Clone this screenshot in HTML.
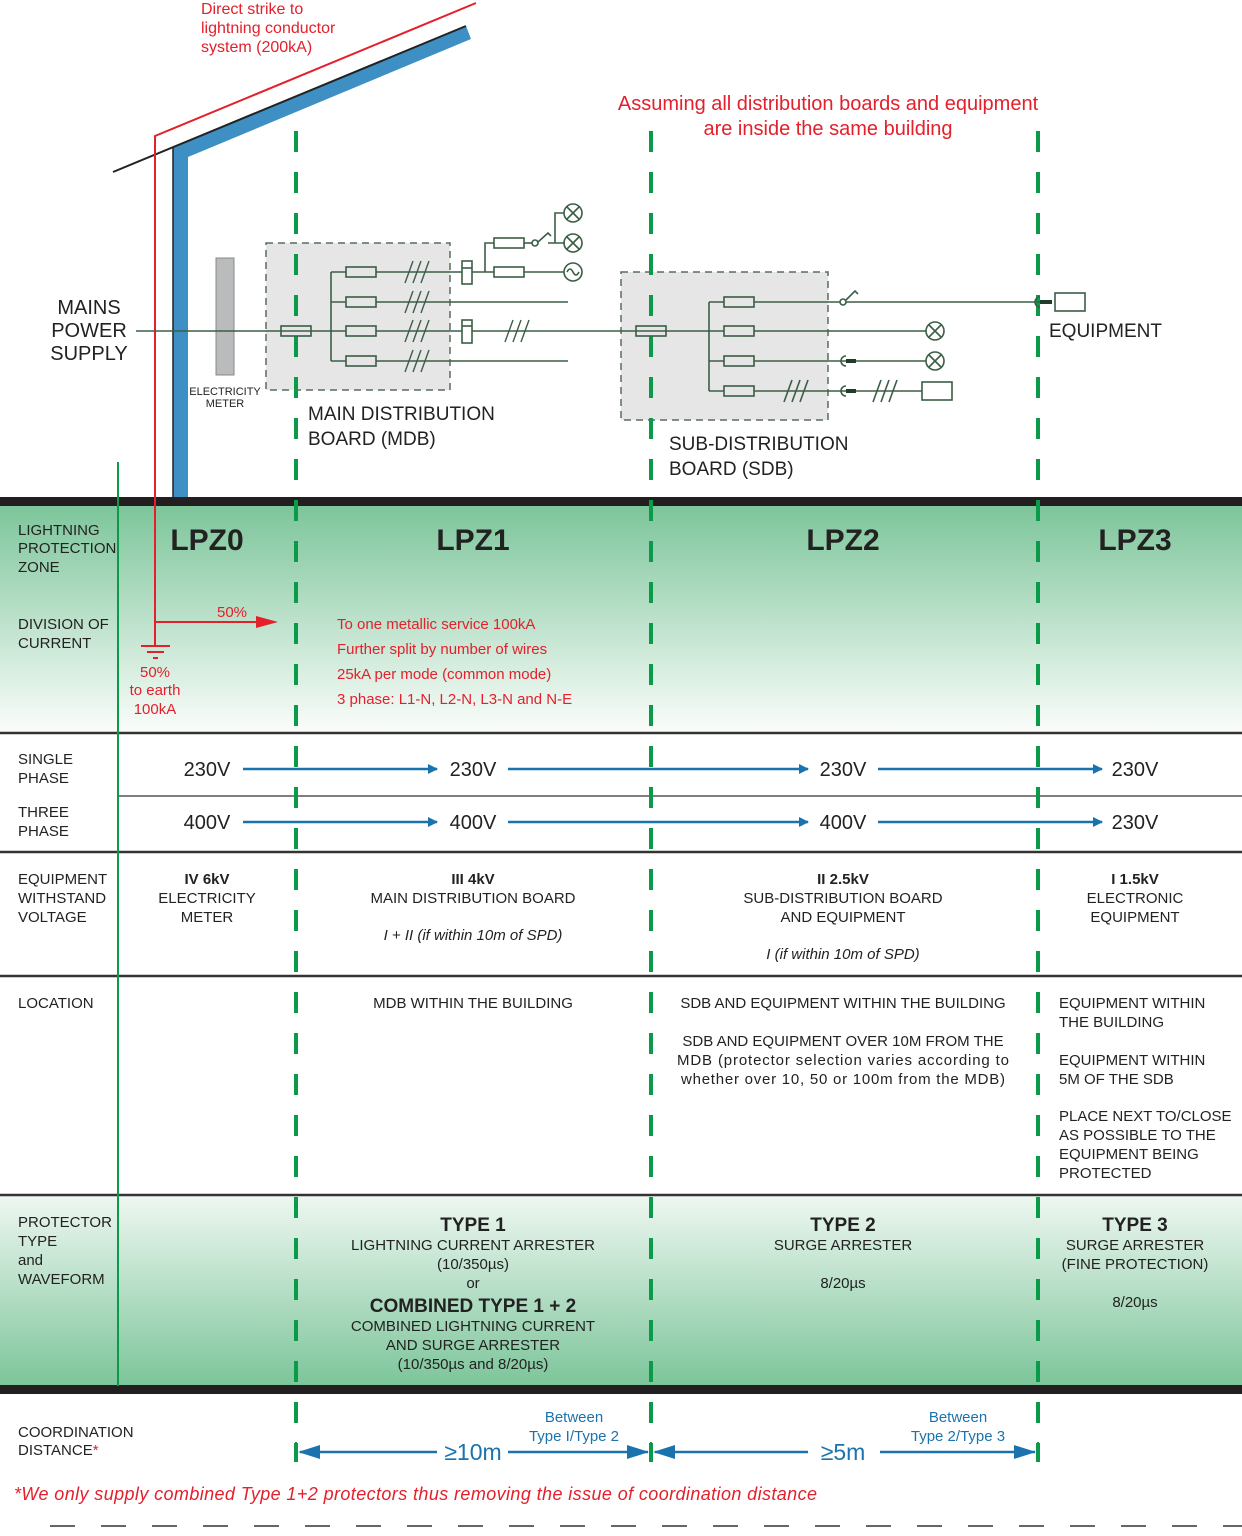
<!DOCTYPE html>
<html><head><meta charset="utf-8"><style>
html,body{margin:0;padding:0;background:#fff}
svg{display:block}
text{font-family:"Liberation Sans",sans-serif;fill:#222}
.r{fill:#e3202b}.b{fill:#1b73ad}
</style></head><body>
<svg width="1242" height="1536" viewBox="0 0 1242 1536" xmlns="http://www.w3.org/2000/svg">
<defs>
<linearGradient id="g1" x1="0" y1="0" x2="0" y2="1"><stop offset="0" stop-color="#7cc59a"/><stop offset="1" stop-color="#fbfdfb"/></linearGradient>
<linearGradient id="g2" x1="0" y1="0" x2="0" y2="1"><stop offset="0" stop-color="#eef7f1"/><stop offset="1" stop-color="#7cc59a"/></linearGradient>
<marker id="ab" markerWidth="10" markerHeight="10" refX="9" refY="5" orient="auto" markerUnits="userSpaceOnUse" viewBox="0 0 10 10"><path d="M0,0 L10,5 L0,10z" fill="#1b73ad"/></marker>
</defs>
<!-- bands -->
<rect x="0" y="505" width="1242" height="228" fill="url(#g1)"/>
<rect x="0" y="1196" width="1242" height="190" fill="url(#g2)"/>
<rect x="0" y="497" width="1242" height="9" fill="#231f20"/>
<rect x="0" y="1385" width="1242" height="9" fill="#231f20"/>
<g stroke="#333" stroke-width="2.5">
<line x1="0" y1="733" x2="1242" y2="733"/>
<line x1="0" y1="852" x2="1242" y2="852"/>
<line x1="0" y1="976" x2="1242" y2="976"/>
<line x1="0" y1="1195" x2="1242" y2="1195"/>
</g>
<line x1="118" y1="796" x2="1242" y2="796" stroke="#555" stroke-width="1.5"/>
<line x1="118" y1="462" x2="118" y2="1386" stroke="#0a9a4a" stroke-width="2"/>

<!-- building -->
<polygon points="173,147 466,26 471,39 188,157 188,497 173,497" fill="#3d8fc4"/>
<line x1="113" y1="172" x2="466" y2="26" stroke="#222" stroke-width="2"/>
<line x1="173" y1="148" x2="173" y2="497" stroke="#222" stroke-width="1.5"/>
<polyline points="476,3 155,136 155,646" fill="none" stroke="#e3202b" stroke-width="2"/>
<text class="r" x="201" y="14" font-size="16">Direct strike to</text>
<text class="r" x="201" y="33" font-size="16">lightning conductor</text>
<text class="r" x="201" y="52" font-size="16">system (200kA)</text>
<text class="r" x="828" y="110" font-size="20" text-anchor="middle">Assuming all distribution boards and equipment</text>
<text class="r" x="828" y="135" font-size="20" text-anchor="middle">are inside the same building</text>

<!-- MDB / SDB boxes -->
<rect x="266" y="243" width="184" height="147" fill="#e6e6e6" stroke="#5a6b5e" stroke-width="1.5" stroke-dasharray="7,5"/>
<rect x="621" y="272" width="207" height="148" fill="#e6e6e6" stroke="#5a6b5e" stroke-width="1.5" stroke-dasharray="7,5"/>
<rect x="216" y="258" width="18" height="117" fill="#b9bbbd" stroke="#888" stroke-width="1"/>

<!-- green dashed verticals -->
<g stroke="#0a9a4a" stroke-width="4" stroke-dasharray="21,20">
<line x1="296" y1="131" x2="296" y2="1462"/>
<line x1="651" y1="131" x2="651" y2="1462"/>
<line x1="1038" y1="131" x2="1038" y2="1462"/>
</g>

<!-- circuit -->
<g stroke="#3b5e45" stroke-width="1.6" fill="none">
<line x1="136" y1="331" x2="926" y2="331"/>
<rect x="281" y="326" width="30" height="10" fill="none"/>
<line x1="331" y1="272" x2="331" y2="361"/>
<line x1="331" y1="272" x2="564" y2="272"/>
<line x1="331" y1="302" x2="568" y2="302"/>
<line x1="331" y1="361" x2="568" y2="361"/>
<rect x="346" y="267" width="30" height="10" fill="#e6e6e6"/>
<rect x="346" y="297" width="30" height="10" fill="#e6e6e6"/>
<rect x="346" y="326" width="30" height="10" fill="#e6e6e6"/>
<rect x="346" y="356" width="30" height="10" fill="#e6e6e6"/>
<g stroke-width="1.4">
<path d="M405,283 l8,-22 M413,283 l8,-22 M421,283 l8,-22"/>
<path d="M405,313 l8,-22 M413,313 l8,-22 M421,313 l8,-22"/>
<path d="M405,342 l8,-22 M413,342 l8,-22 M421,342 l8,-22"/>
<path d="M405,372 l8,-22 M413,372 l8,-22 M421,372 l8,-22"/>
<path d="M505,342 l8,-22 M513,342 l8,-22 M521,342 l8,-22"/>
</g>
<rect x="462" y="261" width="10" height="23" fill="#fff"/>
<line x1="462" y1="268" x2="472" y2="268"/>
<rect x="462" y="320" width="10" height="23" fill="#fff"/>
<line x1="462" y1="326" x2="472" y2="326"/>
<polyline points="485,272 485,243 494,243"/>
<rect x="494" y="238" width="30" height="10" fill="#fff"/>
<rect x="494" y="267" width="30" height="10" fill="#fff"/>
<line x1="524" y1="243" x2="532" y2="243"/>
<circle cx="535" cy="243" r="3"/>
<path d="M538,242 L548,233 L551,236"/>
<line x1="548" y1="243" x2="565" y2="243"/>
<polyline points="555,243 555,213 564,213"/>
<circle cx="573" cy="213" r="9"/><path d="M567,207 l12,12 M579,207 l-12,12"/>
<circle cx="573" cy="243" r="9"/><path d="M567,237 l12,12 M579,237 l-12,12"/>
<circle cx="573" cy="272" r="9"/><path d="M567,272 q3,-6 6,0 t6,0"/>
<!-- SDB -->
<rect x="636" y="326" width="30" height="10" fill="none"/>
<line x1="709" y1="302" x2="709" y2="391"/>
<line x1="709" y1="302" x2="840" y2="302"/>
<line x1="846" y1="302" x2="1040" y2="302"/>
<line x1="709" y1="361" x2="926" y2="361"/>
<line x1="709" y1="391" x2="922" y2="391"/>
<rect x="724" y="297" width="30" height="10" fill="#e6e6e6"/>
<rect x="724" y="326" width="30" height="10" fill="#e6e6e6"/>
<rect x="724" y="356" width="30" height="10" fill="#e6e6e6"/>
<rect x="724" y="386" width="30" height="10" fill="#e6e6e6"/>
<circle cx="843" cy="302" r="3"/>
<path d="M846,300 L855,291 L858,294"/>
<circle cx="935" cy="331" r="9"/><path d="M929,325 l12,12 M941,325 l-12,12"/>
<circle cx="935" cy="361" r="9"/><path d="M929,355 l12,12 M941,355 l-12,12"/>
<path d="M784,402 l8,-22 M792,402 l8,-22 M800,402 l8,-22"/>
<path d="M873,402 l8,-22 M881,402 l8,-22 M889,402 l8,-22"/>
<path d="M846,356 a5,5 0 0 0 0,10"/>
<path d="M846,386 a5,5 0 0 0 0,10"/>
<path d="M1040,297 a5,5 0 0 0 0,10"/>
<rect x="922" y="382" width="30" height="18" fill="#fff"/>
<rect x="1055" y="293" width="30" height="18" fill="#fff"/>
</g>
<g fill="#1f3d28">
<rect x="846" y="359" width="10" height="4"/>
<rect x="846" y="389" width="10" height="4"/>
<rect x="1040" y="300" width="12" height="4"/>
</g>

<text x="89" y="314" font-size="20" text-anchor="middle">MAINS</text>
<text x="89" y="337" font-size="20" text-anchor="middle">POWER</text>
<text x="89" y="360" font-size="20" text-anchor="middle">SUPPLY</text>
<text x="225" y="395" font-size="11" text-anchor="middle" fill="#444">ELECTRICITY</text>
<text x="225" y="407" font-size="11" text-anchor="middle" fill="#444">METER</text>
<text x="308" y="420" font-size="19">MAIN DISTRIBUTION</text>
<text x="308" y="445" font-size="19">BOARD (MDB)</text>
<text x="669" y="450" font-size="19">SUB-DISTRIBUTION</text>
<text x="669" y="475" font-size="19">BOARD (SDB)</text>
<text x="1049" y="337" font-size="19">EQUIPMENT</text>

<!-- LPZ band -->
<g font-size="15">
<text x="18" y="535">LIGHTNING</text><text x="18" y="553">PROTECTION</text><text x="18" y="572">ZONE</text>
<text x="18" y="629">DIVISION OF</text><text x="18" y="648">CURRENT</text>
</g>
<g font-size="30" font-weight="bold" text-anchor="middle" fill="#1a1a1a">
<text x="207" y="550">LPZ0</text><text x="473" y="550">LPZ1</text><text x="843" y="550">LPZ2</text><text x="1135" y="550">LPZ3</text>
</g>
<line x1="155" y1="622" x2="262" y2="622" stroke="#e3202b" stroke-width="2"/>
<path d="M256,616 L278,622 L256,628z" fill="#e3202b"/>
<g stroke="#e3202b" stroke-width="2"><line x1="141" y1="646" x2="170" y2="646"/><line x1="147" y1="652" x2="164" y2="652"/><line x1="153" y1="658" x2="158" y2="658"/></g>
<g font-size="15" class="r">
<text class="r" x="232" y="617" text-anchor="middle">50%</text>
<text class="r" x="155" y="677" text-anchor="middle">50%</text>
<text class="r" x="155" y="695" text-anchor="middle">to earth</text>
<text class="r" x="155" y="714" text-anchor="middle">100kA</text>
<text class="r" x="337" y="629">To one metallic service 100kA</text>
<text class="r" x="337" y="654">Further split by number of wires</text>
<text class="r" x="337" y="679">25kA per mode (common mode)</text>
<text class="r" x="337" y="704">3 phase: L1-N, L2-N, L3-N and N-E</text>
</g>

<!-- voltages -->
<g font-size="15"><text x="18" y="764">SINGLE</text><text x="18" y="783">PHASE</text><text x="18" y="817">THREE</text><text x="18" y="836">PHASE</text></g>
<g font-size="20" text-anchor="middle">
<text x="207" y="776">230V</text><text x="473" y="776">230V</text><text x="843" y="776">230V</text><text x="1135" y="776">230V</text>
<text x="207" y="829">400V</text><text x="473" y="829">400V</text><text x="843" y="829">400V</text><text x="1135" y="829">230V</text>
</g>
<g stroke="#1b73ad" stroke-width="2.5" marker-end="url(#ab)">
<line x1="243" y1="769" x2="437" y2="769"/><line x1="508" y1="769" x2="808" y2="769"/><line x1="878" y1="769" x2="1102" y2="769"/>
<line x1="243" y1="822" x2="437" y2="822"/><line x1="508" y1="822" x2="808" y2="822"/><line x1="878" y1="822" x2="1102" y2="822"/>
</g>

<!-- withstand -->
<g font-size="15"><text x="18" y="884">EQUIPMENT</text><text x="18" y="903">WITHSTAND</text><text x="18" y="922">VOLTAGE</text></g>
<g font-size="15" text-anchor="middle">
<text x="207" y="884" font-weight="bold">IV 6kV</text><text x="207" y="903">ELECTRICITY</text><text x="207" y="922">METER</text>
<text x="473" y="884" font-weight="bold">III 4kV</text><text x="473" y="903">MAIN DISTRIBUTION BOARD</text><text x="473" y="940" font-style="italic">I + II (if within 10m of SPD)</text>
<text x="843" y="884" font-weight="bold">II 2.5kV</text><text x="843" y="903">SUB-DISTRIBUTION BOARD</text><text x="843" y="922">AND EQUIPMENT</text><text x="843" y="959" font-style="italic">I (if within 10m of SPD)</text>
<text x="1135" y="884" font-weight="bold">I 1.5kV</text><text x="1135" y="903">ELECTRONIC</text><text x="1135" y="922">EQUIPMENT</text>
</g>

<!-- location -->
<g font-size="15">
<text x="18" y="1008">LOCATION</text>
<text x="473" y="1008" text-anchor="middle">MDB WITHIN THE BUILDING</text>
<text x="843" y="1008" text-anchor="middle">SDB AND EQUIPMENT WITHIN THE BUILDING</text>
<text x="843" y="1046" text-anchor="middle">SDB AND EQUIPMENT OVER 10M FROM THE</text>
<text x="843" y="1065" text-anchor="middle" textLength="332">MDB (protector selection varies according to</text>
<text x="843" y="1084" text-anchor="middle" textLength="324">whether over 10, 50 or 100m from the MDB)</text>
<text x="1059" y="1008">EQUIPMENT WITHIN</text><text x="1059" y="1027">THE BUILDING</text>
<text x="1059" y="1065">EQUIPMENT WITHIN</text><text x="1059" y="1084">5M OF THE SDB</text>
<text x="1059" y="1121">PLACE NEXT TO/CLOSE</text><text x="1059" y="1140">AS POSSIBLE TO THE</text><text x="1059" y="1159">EQUIPMENT BEING</text><text x="1059" y="1178">PROTECTED</text>
</g>

<!-- protector -->
<g font-size="15"><text x="18" y="1227">PROTECTOR</text><text x="18" y="1246">TYPE</text><text x="18" y="1265">and</text><text x="18" y="1284">WAVEFORM</text></g>
<g font-size="15" text-anchor="middle">
<text x="473" y="1231" font-size="19" font-weight="bold">TYPE 1</text>
<text x="473" y="1250">LIGHTNING CURRENT ARRESTER</text>
<text x="473" y="1269">(10/350µs)</text>
<text x="473" y="1288">or</text>
<text x="473" y="1312" font-size="19" font-weight="bold">COMBINED TYPE 1 + 2</text>
<text x="473" y="1331">COMBINED LIGHTNING CURRENT</text>
<text x="473" y="1350">AND SURGE ARRESTER</text>
<text x="473" y="1369">(10/350µs and 8/20µs)</text>
<text x="843" y="1231" font-size="19" font-weight="bold">TYPE 2</text>
<text x="843" y="1250">SURGE ARRESTER</text>
<text x="843" y="1288">8/20µs</text>
<text x="1135" y="1231" font-size="19" font-weight="bold">TYPE 3</text>
<text x="1135" y="1250">SURGE ARRESTER</text>
<text x="1135" y="1269">(FINE PROTECTION)</text>
<text x="1135" y="1307">8/20µs</text>
</g>

<!-- coordination -->
<g font-size="15"><text x="18" y="1437">COORDINATION</text><text x="18" y="1455">DISTANCE<tspan class="r">*</tspan></text></g>
<g stroke="#1b73ad" stroke-width="2.5">
<line x1="300" y1="1452" x2="437" y2="1452"/><line x1="508" y1="1452" x2="648" y2="1452"/>
<line x1="655" y1="1452" x2="808" y2="1452"/><line x1="880" y1="1452" x2="1035" y2="1452"/>
</g>
<g fill="#1b73ad">
<path d="M298,1452 L320,1445 L320,1459z"/><path d="M649,1452 L627,1445 L627,1459z"/>
<path d="M653,1452 L675,1445 L675,1459z"/><path d="M1036,1452 L1014,1445 L1014,1459z"/>
</g>
<g stroke="#0a9a4a" stroke-width="2"><line x1="296" y1="1442" x2="296" y2="1462"/><line x1="651" y1="1442" x2="651" y2="1462"/><line x1="1038" y1="1442" x2="1038" y2="1462"/></g>
<g text-anchor="middle">
<text class="b" x="473" y="1460" font-size="23">≥10m</text>
<text class="b" x="843" y="1460" font-size="23">≥5m</text>
<text class="b" x="574" y="1422" font-size="15">Between</text>
<text class="b" x="574" y="1441" font-size="15">Type I/Type 2</text>
<text class="b" x="958" y="1422" font-size="15">Between</text>
<text class="b" x="958" y="1441" font-size="15">Type 2/Type 3</text>
</g>
<text class="r" x="14" y="1500" font-size="18" font-style="italic" textLength="803">*We only supply combined Type 1+2 protectors thus removing the issue of coordination distance</text>
<line x1="50" y1="1526" x2="1242" y2="1526" stroke="#333" stroke-width="1.5" stroke-dasharray="25,26"/>
</svg>
</body></html>
